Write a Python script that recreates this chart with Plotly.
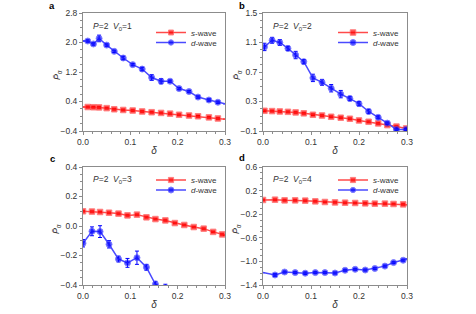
import plotly.graph_objects as go

# ---------------- data ----------------
# panel a (V0=1)
delta_a = [0.0, 0.010, 0.022, 0.034, 0.050, 0.066, 0.085, 0.105, 0.125, 0.145, 0.165,
           0.184, 0.203, 0.224, 0.243, 0.266, 0.285, 0.3]
s_a = [0.25, 0.25, 0.245, 0.24, 0.22, 0.19, 0.17, 0.155, 0.13, 0.11, 0.09,
       0.07, 0.04, 0.02, 0.0, -0.03, -0.06, -0.08]
s_a_err = [0, 0.02, 0.02, 0.02, 0.02, 0.02, 0.02, 0.02, 0.02, 0.02, 0.02,
           0.02, 0.02, 0.02, 0.02, 0.02, 0.02, 0]
d_a = [2.04, 2.04, 1.96, 2.11, 1.93, 1.76, 1.58, 1.40, 1.28, 1.05, 0.95,
       0.95, 0.75, 0.67, 0.52, 0.44, 0.38, 0.34]
d_a_err = [0, 0.03, 0.03, 0.09, 0.03, 0.03, 0.05, 0.03, 0.05, 0.08, 0.07,
           0.03, 0.03, 0.03, 0.03, 0.03, 0.03, 0]

# panel b (V0=2)
delta_b = [0.003, 0.019, 0.035, 0.052, 0.068, 0.085, 0.104, 0.123, 0.142, 0.162,
           0.181, 0.200, 0.220, 0.240, 0.259, 0.278, 0.298]
s_b = [0.174, 0.17, 0.165, 0.16, 0.152, 0.14, 0.12, 0.11, 0.093, 0.08,
       0.066, 0.043, 0.025, 0.003, -0.02, -0.04, -0.065]
s_b_err = [0.01] * 17
d_b = [1.04, 1.13, 1.10, 1.02, 0.93, 0.84, 0.62, 0.56, 0.48, 0.40,
       0.34, 0.27, 0.165, 0.085, 0.007, -0.08, -0.08]
d_b_err = [0.05, 0.04, 0.04, 0.03, 0.05, 0.03, 0.05, 0.04, 0.05, 0.05,
           0.03, 0.03, 0.03, 0.02, 0.015, 0.015, 0.015]

# panel c (V0=3)
delta_c = [0.0, 0.019, 0.036, 0.055, 0.075, 0.094, 0.114, 0.134, 0.153, 0.174,
           0.194, 0.214, 0.234, 0.255, 0.275, 0.294, 0.3]
s_c = [0.10, 0.098, 0.095, 0.09, 0.084, 0.072, 0.077, 0.059, 0.047, 0.038,
       0.02, 0.007, -0.007, -0.018, -0.04, -0.057, -0.062]
s_c_err = [0.004] * 16 + [0]
delta_cd = [0.0, 0.019, 0.036, 0.055, 0.075, 0.094, 0.114, 0.134, 0.153, 0.174, 0.194]
d_c = [-0.117, -0.036, -0.038, -0.124, -0.224, -0.25, -0.215, -0.28, -0.395, -0.43, -0.5]
d_c_err = [0.025, 0.03, 0.04, 0.025, 0.02, 0.03, 0.045, 0.02, 0.02, 0.035, 0.03]

# panel d (V0=4)
delta_d = [0.0, 0.025, 0.045, 0.067, 0.088, 0.109, 0.129, 0.150, 0.171, 0.192,
           0.213, 0.233, 0.254, 0.272, 0.292, 0.3]
s_d = [0.041, 0.046, 0.035, 0.035, 0.03, 0.018, 0.007, 0.0, -0.005, -0.01,
       -0.016, -0.021, -0.021, -0.027, -0.033, -0.038]
s_d_err = [0.01] * 15 + [0]
d_d = [-1.19, -1.23, -1.18, -1.19, -1.20, -1.19, -1.19, -1.197, -1.15, -1.134,
       -1.146, -1.12, -1.08, -1.02, -0.98, -0.96]
d_d_err = [0, 0.02, 0.015, 0.015, 0.02, 0.015, 0.015, 0.015, 0.015, 0.015,
           0.015, 0.015, 0.015, 0.015, 0.015, 0]

v0_values = [1, 2, 3, 4]
panel_labels = ["a", "b", "c", "d"]
series_names = ["<i>s</i>-wave", "<i>d</i>-wave"]
x_title = "<i>δ</i>"
y_title = "<i>P̄</i><sub>α</sub>"
y_ranges = [[-0.4, 2.8], [-0.1, 1.5], [-0.4, 0.4], [-1.4, 0.6]]
y_dticks = [0.8, 0.4, 0.2, 0.4]

# ---------------- style / layout (pixel positions) ----------------
RED, RED_L = "#ff0000", "#ff4a4a"
BLUE, BLUE_L = "#0000ff", "#4a4aff"
FONT = "Liberation Sans, Arial, sans-serif"
AX_COL = "#8c8c8c"
TXT_COL = "#333333"

W, H = 476, 314
x_px = [(83, 225), (263, 407), (83, 225), (263, 407)]
y_px = [(13, 131), (13, 131), (167, 285), (167, 285)]
legend_rows = [(32.5, 42.5), (32.5, 42.5), (180, 190), (180, 190)]
label_y = [27, 27, 179, 179]
letter_pos = [(52, 6), (242, 6), (52, 158), (242, 157)]
ytitle_dx = 26  # px left of the axis line

x_doms = [[a / W, b / W] for a, b in x_px]
y_doms = [[1 - b / H, 1 - a / H] for a, b in y_px]


def sizes(n, hide_first, hide_last, s=6):
    out = [s] * n
    if hide_first:
        out[0] = 0
    if hide_last:
        out[-1] = 0
    return out


fig = go.Figure()

panels = [
    (delta_a, s_a, s_a_err, delta_a, d_a, d_a_err, (True, True), (True, True)),
    (delta_b, s_b, s_b_err, delta_b, d_b, d_b_err, (False, False), (False, False)),
    (delta_c, s_c, s_c_err, delta_cd, d_c, d_c_err, (False, True), (False, False)),
    (delta_d, s_d, s_d_err, delta_d, d_d, d_d_err, (False, True), (True, True)),
]

legend_layouts = {}
for i, (xs, ys, es, xd, yd, ed, hs, hd) in enumerate(panels):
    k = "" if i == 0 else str(i + 1)
    leg_s = "legend" if i == 0 else f"legend{2 * i + 1}"
    leg_d = f"legend{2 * i + 2}"
    fig.add_trace(go.Scatter(
        x=xs, y=ys, mode="lines+markers", name=series_names[0],
        xaxis="x" + k, yaxis="y" + k, legend=leg_s, showlegend=True,
        line=dict(color=RED_L, width=1.5),
        marker=dict(symbol="square", color=RED, size=sizes(len(xs), *hs, s=5.5)),
        error_y=dict(type="data", array=es, color=RED, thickness=1, width=2),
    ))
    fig.add_trace(go.Scatter(
        x=xd, y=yd, mode="lines+markers", name=series_names[1],
        xaxis="x" + k, yaxis="y" + k, legend=leg_d, showlegend=True,
        line=dict(color=BLUE_L, width=1.5),
        marker=dict(symbol="circle", color=BLUE, size=sizes(len(xd), *hd, s=6)),
        error_y=dict(type="data", array=ed, color=BLUE, thickness=1, width=2),
    ))

    axis_common = dict(
        showline=True, linecolor=AX_COL, linewidth=1, mirror=True,
        ticks="outside", ticklen=3, tickcolor=AX_COL, tickwidth=1,
        showgrid=False, zeroline=False, automargin=False,
        tickfont=dict(family=FONT, size=8.5, color=TXT_COL),
        minor=dict(ticks="outside", ticklen=2, tickcolor=AX_COL, showgrid=False),
    )
    fig.update_layout(**{
        "xaxis" + k: dict(domain=x_doms[i], anchor="y" + k, range=[0, 0.3],
                          dtick=0.1, tickformat=".1f",
                          title=dict(text=x_title, standoff=0,
                                     font=dict(family=FONT, size=10, color=TXT_COL)),
                          **axis_common),
        "yaxis" + k: dict(domain=y_doms[i], anchor="x" + k, range=y_ranges[i],
                          dtick=y_dticks[i], tick0=y_ranges[i][0], tickformat=".1f",
                          **axis_common),
    })

    # y-axis title (placed close to the tick labels, as in the original)
    fig.add_annotation(
        x=(x_px[i][0] - ytitle_dx) / W, y=1 - ((y_px[i][0] + y_px[i][1]) / 2 + 3) / H,
        xref="paper", yref="paper", xanchor="center", yanchor="middle",
        showarrow=False, textangle=-90, text=y_title,
        font=dict(family=FONT, size=9, color=TXT_COL),
    )

    # one single-entry legend per series, placed inside top-right
    for leg, row_y in zip((leg_s, leg_d), legend_rows[i]):
        legend_layouts[leg] = dict(
            x=(x_px[i][1] - 74) / W, xanchor="left",
            y=1 - row_y / H, yanchor="middle",
            bgcolor="rgba(0,0,0,0)", borderwidth=0,
            font=dict(family=FONT, size=8, color=TXT_COL),
            itemwidth=30,
        )

    # parameter label
    fig.add_annotation(
        x=(x_px[i][0] + 8) / W, y=1 - label_y[i] / H, xref="paper", yref="paper",
        xanchor="left", yanchor="middle", showarrow=False,
        text=f"<i>P</i>=2&nbsp;&nbsp;<i>V</i><sub>0</sub>={v0_values[i]}",
        font=dict(family=FONT, size=8.5, color=TXT_COL),
    )
    # panel letter
    fig.add_annotation(
        x=letter_pos[i][0] / W, y=1 - letter_pos[i][1] / H, xref="paper", yref="paper",
        xanchor="center", yanchor="middle", showarrow=False,
        text=f"<b>{panel_labels[i]}</b>",
        font=dict(family=FONT, size=9.5, color="black"),
    )

fig.update_layout(**legend_layouts)
fig.update_layout(
    width=W, height=H, margin=dict(l=0, r=0, t=0, b=0, autoexpand=False),
    paper_bgcolor="white", plot_bgcolor="white", showlegend=True,
    font=dict(family=FONT, color=TXT_COL),
)

fig.write_html("out.html", config={"displayModeBar": False},
               post_script="document.body.style.margin='0px';"
                           "document.body.style.overflow='hidden';")
